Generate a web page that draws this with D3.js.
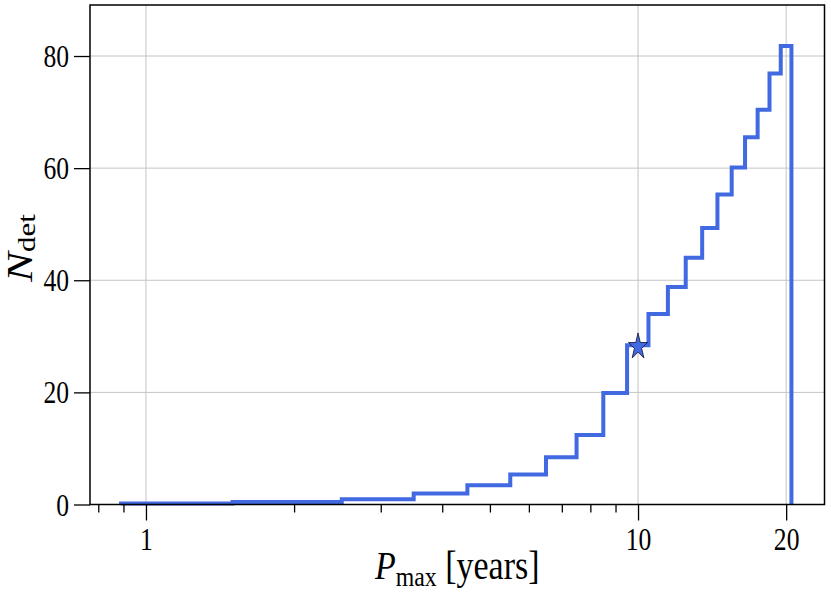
<!DOCTYPE html>
<html>
<head>
<meta charset="utf-8">
<script src="https://cdn.jsdelivr.net/npm/d3@7"></script>
<style>
  html, body { margin: 0; padding: 0; background: #fff; }
  svg { display: block; }
  text { font-family: "Liberation Serif", "Times New Roman", serif; fill: #000; }
</style>
</head>
<body>
<svg id="chart" width="831" height="598"></svg>
<script>
// ---- data ----
const binEdges = [0.89, 1.5, 2.5, 3.5, 4.5, 5.5, 6.5, 7.5, 8.5, 9.5, 10.5,
                  11.5, 12.5, 13.5, 14.5, 15.5, 16.5, 17.5, 18.5, 19.5, 20.5];
const nDet = [0.2, 0.45, 0.95, 1.95, 3.45, 5.36, 8.45, 12.4, 19.9, 28.4,
              34.0, 38.8, 44.0, 49.3, 55.3, 60.1, 65.5, 70.4, 76.9, 81.8];
const starP = [10];
const starN = [28.4];
const xMajorTicks = [1, 10, 20];
const xMajorLabels = ["1", "10", "20"];
const xMinorTicks = [0.8, 0.9, 2, 3, 4, 5, 6, 7, 8, 9];
const yTicks = [0, 20, 40, 60, 80];
const yTickLabels = ["0", "20", "40", "60", "80"];
const xDomain = [0.7696, 23.93];
const yDomain = [0, 89.1];

// ---- layout ----
const svg = d3.select("#chart");
const L = 90, R = 824.5, T = 5, B = 504.5;
const sx = 0.8; // horizontal squeeze of the reference glyphs

const x = d3.scaleLog().domain(xDomain).range([L, R]);
const y = d3.scaleLinear().domain(yDomain).range([B, T]);

// grid
const grid = svg.append("g");
grid.selectAll("line.gx").data(xMajorTicks).join("line")
  .attr("x1", d => x(d)).attr("x2", d => x(d))
  .attr("y1", T).attr("y2", B)
  .attr("stroke", "#c4c4c4").attr("stroke-width", 1);
grid.selectAll("line.gy").data(yTicks).join("line")
  .attr("x1", L).attr("x2", R)
  .attr("y1", d => y(d)).attr("y2", d => y(d))
  .attr("stroke", "#c4c4c4").attr("stroke-width", 1);

// step histogram outline
const pts = [[binEdges[0], 0]];
nDet.forEach((v, i) => { pts.push([binEdges[i], v]); pts.push([binEdges[i + 1], v]); });
pts.push([binEdges[binEdges.length - 1], 0]);
const line = d3.line().x(d => x(d[0])).y(d => y(d[1]));
svg.append("path")
  .attr("d", line(pts))
  .attr("fill", "none")
  .attr("stroke", "#4169e1")
  .attr("stroke-width", 4)
  .attr("stroke-linejoin", "miter");

// star marker
const star = d3.symbol().type(d3.symbolStar).size(215);
svg.selectAll("path.star").data(starP).join("path")
  .attr("class", "star")
  .attr("d", star())
  .attr("transform", (d, i) => `translate(${x(d)},${y(starN[i]) + 1.5}) scale(0.72,1)`)
  .attr("fill", "#4169e1")
  .attr("stroke", "#1a1a3a")
  .attr("stroke-width", 1);

// axes via d3
const xAxisMajor = d3.axisBottom(x).tickValues(xMajorTicks).tickFormat((d, i) => xMajorLabels[i])
  .tickSize(16).tickPadding(6);
const xAxisMinor = d3.axisBottom(x).tickValues(xMinorTicks).tickFormat("").tickSize(8);
const yAxis = d3.axisLeft(y).tickValues(yTicks).tickFormat((d, i) => yTickLabels[i])
  .tickSize(16).tickPadding(5);

const gxMin = svg.append("g").attr("transform", `translate(0,${B})`).call(xAxisMinor);
const gx = svg.append("g").attr("transform", `translate(0,${B})`).call(xAxisMajor);
const gy = svg.append("g").attr("transform", `translate(${L},0)`).call(yAxis);
[gx, gxMin, gy].forEach(g => {
  g.select(".domain").remove();
  g.selectAll(".tick line").attr("stroke", "#000").attr("stroke-width", 1.3);
});
gx.selectAll(".tick text")
  .attr("font-size", 32).attr("font-family", "Liberation Serif")
  .attr("dy", null).attr("y", 0)
  .attr("transform", `translate(0,45) scale(${sx},1)`);
gy.selectAll(".tick text")
  .attr("font-size", 32).attr("font-family", "Liberation Serif")
  .attr("x", 0).attr("dy", "0.33em")
  .attr("transform", `translate(-21,0) scale(${sx},1)`);

// frame
svg.append("rect").attr("x", L).attr("y", T).attr("width", R - L).attr("height", B - T)
  .attr("fill", "none").attr("stroke", "#000").attr("stroke-width", 1.5);

// x label
const xl = svg.append("text")
  .attr("transform", `translate(${(L + R) / 2},579) scale(0.85,1)`)
  .attr("text-anchor", "middle").attr("font-size", 40);
xl.append("tspan").attr("font-style", "italic").text("P");
xl.append("tspan").attr("font-size", 28).attr("dy", 7).text("max");
xl.append("tspan").attr("dy", -7).text(" [years]");

// y label
const yl = svg.append("text")
  .attr("transform", `translate(32,248) scale(${sx},1) rotate(-90)`)
  .attr("text-anchor", "middle").attr("font-size", 45);
yl.append("tspan").attr("font-style", "italic").text("N");
yl.append("tspan").attr("font-size", 31).attr("dy", 4).text("det");
</script>
</body>
</html>
